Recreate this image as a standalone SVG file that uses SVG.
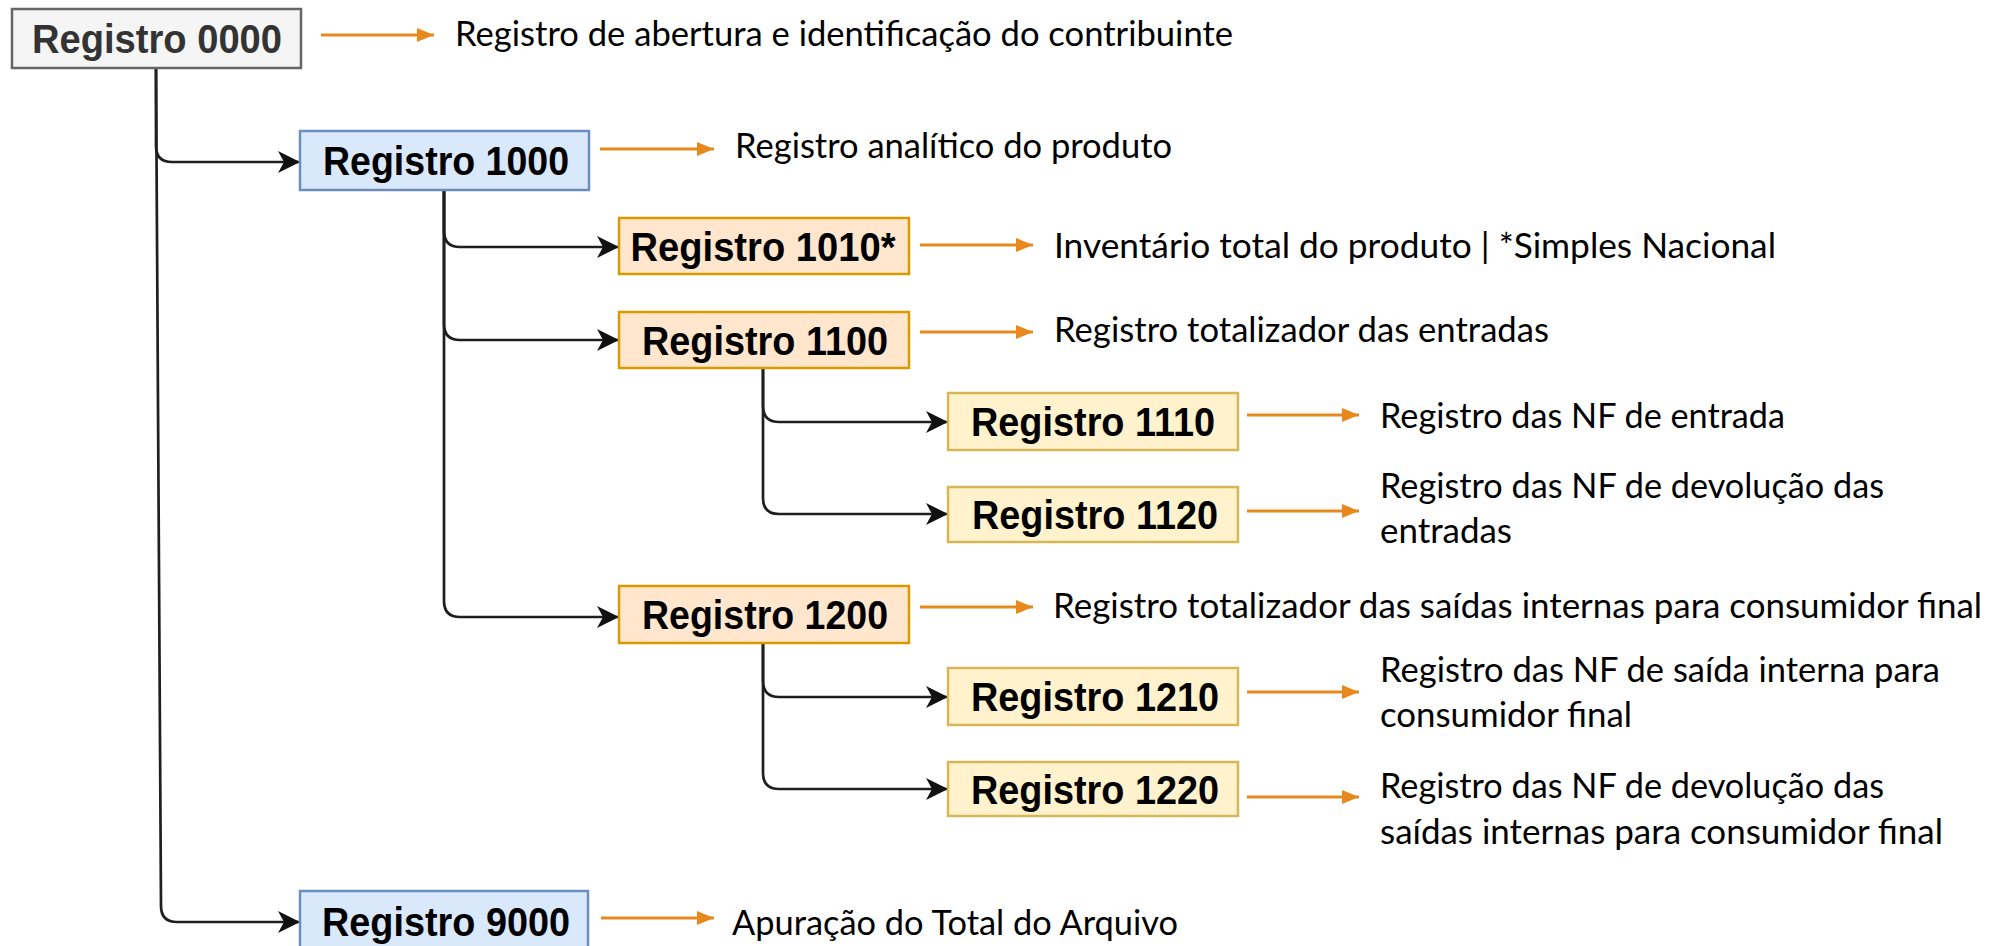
<svg xmlns="http://www.w3.org/2000/svg" width="1990" height="946" viewBox="0 0 1990 946">
<style>
.box{stroke-width:2.5}
.gray{fill:#f5f5f5;stroke:#666666}
.blue{fill:#dae8fc;stroke:#6c8ebf}
.orange{fill:#ffe6cc;stroke:#d79b00}
.yellow{fill:#fff2cc;stroke:#d6b656}
.lbl{font-family:"Liberation Sans",Arial,sans-serif;font-weight:bold;font-size:40px;text-anchor:middle;fill:#000}
.desc{font-family:Lato,"Noto Sans",sans-serif;font-size:34px;fill:#000}
.conn{fill:none;stroke:#1f1f1f;stroke-width:2.7;marker-end:url(#ah)}
.oa{fill:none;stroke:#e8891e;stroke-width:3;marker-end:url(#oh)}
</style>
<defs>
<marker id="ah" viewBox="0 0 22 22" refX="22" refY="11" markerWidth="22" markerHeight="22" markerUnits="userSpaceOnUse" orient="auto"><path d="M0,0 L22,11 L0,22 L6,11 Z" fill="#111"/></marker>
<marker id="oh" viewBox="0 0 17 14" refX="17" refY="7" markerWidth="17" markerHeight="14" markerUnits="userSpaceOnUse" orient="auto"><path d="M0,0 L17,7 L0,14 Z" fill="#e8891e"/></marker>
</defs>
<rect width="1990" height="946" fill="#ffffff"/>
<g id="connectors">
<path class="conn" d="M156,68 V146 Q156,162 172,162 H300"/>
<path class="conn" d="M156,68 L161,906 Q161,922 177,922 H300"/>
<path class="conn" d="M444,190 V231 Q444,247 460,247 H619"/>
<path class="conn" d="M444,190 V324 Q444,340 460,340 H619"/>
<path class="conn" d="M444,190 V601 Q444,617 460,617 H619"/>
<path class="conn" d="M763,368 V406 Q763,422 779,422 H948"/>
<path class="conn" d="M763,368 V498 Q763,514 779,514 H948"/>
<path class="conn" d="M763,643 V681 Q763,697 779,697 H948"/>
<path class="conn" d="M763,643 V773 Q763,789 779,789 H948"/>
<path class="oa" d="M321,35 H434"/>
<path class="oa" d="M600,149 H714"/>
<path class="oa" d="M920,245 H1033"/>
<path class="oa" d="M920,332 H1033"/>
<path class="oa" d="M920,607 H1033"/>
<path class="oa" d="M1247,415 H1359"/>
<path class="oa" d="M1247,511 H1359"/>
<path class="oa" d="M1247,692 H1359"/>
<path class="oa" d="M1247,797 H1359"/>
<path class="oa" d="M601,918 H714"/>
</g>
<g id="n0000">
<rect class="box gray" x="12" y="9" width="289" height="59"/>
<text class="lbl" x="157" y="53" style="fill:#333333" textLength="250" lengthAdjust="spacingAndGlyphs">Registro 0000</text>
<text class="desc" x="455" y="46" textLength="778" lengthAdjust="spacingAndGlyphs">Registro de abertura e identificação do contribuinte</text>
</g>
<g id="n1000">
<rect class="box blue" x="300" y="131" width="289" height="59"/>
<text class="lbl" x="446" y="175" textLength="246" lengthAdjust="spacingAndGlyphs">Registro 1000</text>
<text class="desc" x="735" y="158" textLength="437" lengthAdjust="spacingAndGlyphs">Registro analítico do produto</text>
</g>
<g id="n1010">
<rect class="box orange" x="619" y="218" width="290" height="56"/>
<text class="lbl" x="763" y="260.5" textLength="265" lengthAdjust="spacingAndGlyphs">Registro 1010*</text>
<text class="desc" x="1054" y="258" textLength="722" lengthAdjust="spacingAndGlyphs">Inventário total do produto | *Simples Nacional</text>
</g>
<g id="n1100">
<rect class="box orange" x="619" y="312" width="290" height="56"/>
<text class="lbl" x="765" y="354.5" textLength="246" lengthAdjust="spacingAndGlyphs">Registro 1100</text>
<text class="desc" x="1054" y="342" textLength="495" lengthAdjust="spacingAndGlyphs">Registro totalizador das entradas</text>
</g>
<g id="n1110">
<rect class="box yellow" x="948" y="393" width="290" height="57"/>
<text class="lbl" x="1093" y="436" textLength="244" lengthAdjust="spacingAndGlyphs">Registro 1110</text>
<text class="desc" x="1380" y="428" textLength="405" lengthAdjust="spacingAndGlyphs">Registro das NF de entrada</text>
</g>
<g id="n1120">
<rect class="box yellow" x="948" y="487" width="290" height="55"/>
<text class="lbl" x="1095" y="529" textLength="246" lengthAdjust="spacingAndGlyphs">Registro 1120</text>
<text class="desc" x="1380" y="498" textLength="504" lengthAdjust="spacingAndGlyphs">Registro das NF de devolução das</text>
<text class="desc" x="1380" y="543" textLength="132" lengthAdjust="spacingAndGlyphs">entradas</text>
</g>
<g id="n1200">
<rect class="box orange" x="619" y="586" width="290" height="57"/>
<text class="lbl" x="765" y="629" textLength="246" lengthAdjust="spacingAndGlyphs">Registro 1200</text>
<text class="desc" x="1053" y="618" textLength="929" lengthAdjust="spacingAndGlyphs">Registro totalizador das saídas internas para consumidor final</text>
</g>
<g id="n1210">
<rect class="box yellow" x="948" y="668" width="290" height="57"/>
<text class="lbl" x="1095" y="711" textLength="248" lengthAdjust="spacingAndGlyphs">Registro 1210</text>
<text class="desc" x="1380" y="682" textLength="560" lengthAdjust="spacingAndGlyphs">Registro das NF de saída interna para</text>
<text class="desc" x="1380" y="727" textLength="252" lengthAdjust="spacingAndGlyphs">consumidor final</text>
</g>
<g id="n1220">
<rect class="box yellow" x="948" y="762" width="290" height="54"/>
<text class="lbl" x="1095" y="803.5" textLength="248" lengthAdjust="spacingAndGlyphs">Registro 1220</text>
<text class="desc" x="1380" y="798" textLength="504" lengthAdjust="spacingAndGlyphs">Registro das NF de devolução das</text>
<text class="desc" x="1380" y="844" textLength="563" lengthAdjust="spacingAndGlyphs">saídas internas para consumidor final</text>
</g>
<g id="n9000">
<rect class="box blue" x="300" y="891" width="288" height="60"/>
<text class="lbl" x="446" y="936" textLength="248" lengthAdjust="spacingAndGlyphs">Registro 9000</text>
<text class="desc" x="732" y="935" textLength="446" lengthAdjust="spacingAndGlyphs">Apuração do Total do Arquivo</text>
</g>
</svg>
